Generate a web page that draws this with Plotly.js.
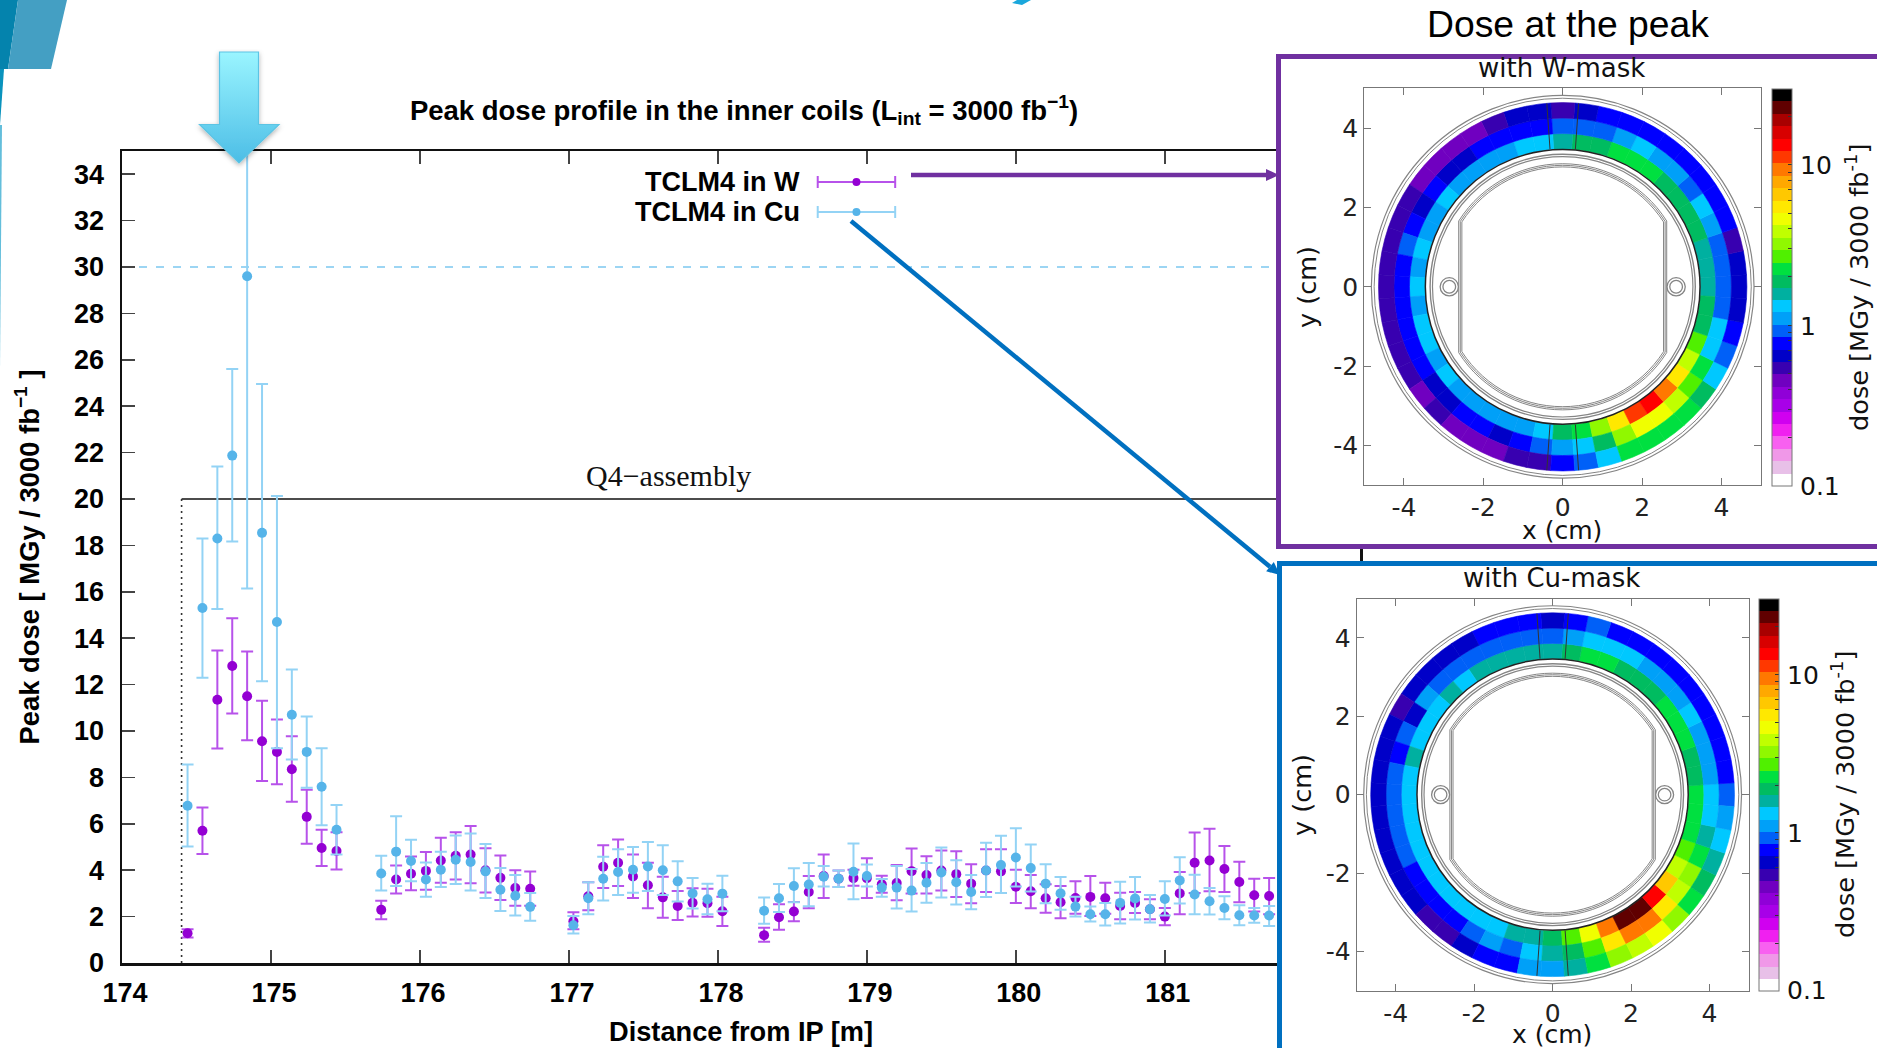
<!DOCTYPE html>
<html><head><meta charset="utf-8">
<script src="https://cdn.plot.ly/plotly-3.0.1.min.js"></script>
<style>html,body{margin:0;padding:0;background:#fff;overflow:hidden}#c{width:1877px;height:1048px}</style>
</head><body><div id="c"></div>
<script>
// ---------- main profile ----------
const distance = [174.44,174.54,174.64,174.74,174.84,174.94,175.04,175.14,175.24,175.34,175.44,
 175.74,175.84,175.94,176.04,176.14,176.24,176.34,176.44,176.54,176.64,176.74,
 177.03,177.13,177.23,177.33,177.43,177.53,177.63,177.73,177.83,177.93,178.03,
 178.31,178.41,178.51,178.61,178.71,178.81,178.91,179.0,179.1,179.2,179.3,179.4,179.5,179.6,179.7,179.8,179.9,
 180.0,180.1,180.2,180.3,180.4,180.5,180.6,180.7,180.8,180.9,181.0,181.1,181.2,181.3,181.4,181.5,181.6,181.7];
const doseW = [1.28,5.7,11.35,12.8,11.5,9.56,9.1,8.35,6.3,4.96,4.83,
 2.29,3.6,3.85,3.97,4.42,4.62,4.68,4.0,3.67,3.23,3.2,
 1.8,2.88,4.15,4.32,3.73,3.35,2.83,2.46,2.6,2.58,2.23,
 1.2,1.97,2.22,3.06,3.75,3.63,3.66,3.66,3.39,3.45,3.96,3.79,3.99,3.83,3.42,3.99,3.95,
 3.29,3.09,2.79,2.62,2.8,2.85,2.79,2.46,2.59,2.32,2.0,3.0,4.32,4.42,4.05,3.49,2.92,2.89];
const doseWHigh = [1.46,6.7,13.47,14.86,13.43,11.3,10.5,9.77,7.47,5.74,5.64,
 2.68,4.2,4.59,4.78,5.4,5.64,5.9,4.95,4.63,4.0,3.94,
 2.19,3.48,5.08,5.32,4.68,4.32,3.72,3.1,3.22,3.2,2.86,
 1.52,2.53,2.63,3.75,4.68,3.99,4.02,4.52,3.76,4.22,4.94,4.6,4.85,4.82,4.26,4.9,4.9,
 4.02,3.79,3.39,3.32,3.52,3.75,3.46,3.03,3.06,2.75,2.37,3.92,5.62,5.79,5.04,4.36,3.63,3.66];
const doseWLow = [1.1,4.7,9.25,10.75,9.6,7.85,7.7,6.95,5.14,4.18,4.03,
 1.89,3.0,3.14,3.16,3.46,3.6,3.44,3.04,2.72,2.47,2.47,
 1.46,2.27,3.23,3.32,2.8,2.36,1.95,1.85,2.0,1.99,1.6,
 0.92,1.43,1.8,2.36,2.8,3.28,3.33,2.8,3.03,2.7,3.0,3.0,3.13,2.85,2.58,3.06,3.02,
 2.59,2.36,2.17,1.93,2.12,2.03,2.12,1.89,2.15,1.89,1.63,2.1,3.02,3.09,3.06,2.62,2.22,2.1];
const doseCu = [6.78,15.3,18.3,21.87,29.6,18.54,14.7,10.7,9.1,7.6,5.74,
 3.86,4.8,4.4,3.6,4.02,4.45,4.35,3.95,3.16,2.9,2.42,
 1.63,2.79,3.63,3.92,4.02,4.16,4.0,3.52,3.0,2.75,2.99,
 2.25,2.79,3.32,3.38,3.72,3.63,3.93,3.75,3.25,3.25,3.12,3.46,3.9,3.48,3.06,3.99,4.22,
 4.55,4.09,3.42,3.0,2.43,2.1,2.1,2.59,2.78,2.32,2.76,3.56,2.95,2.66,2.37,2.06,2.05,2.05];
const doseCuHigh = [8.56,18.3,21.4,25.6,43,24.96,20.13,12.65,10.63,9.26,6.81,
 4.62,6.33,5.31,4.33,4.8,5.5,5.58,5.13,4.09,3.79,3.02,
 2.03,3.48,4.58,4.9,5.0,5.22,5.08,4.39,3.66,3.42,3.76,
 2.82,3.4,4.08,4.31,4.18,3.99,5.15,4.25,3.62,4.18,4.05,4.31,4.98,4.43,3.79,5.18,5.49,
 5.81,5.11,4.26,3.71,2.86,2.43,2.59,3.5,3.71,2.93,3.52,4.56,3.8,3.23,2.88,2.49,2.37,2.46];
const doseCuLow = [5.02,12.3,15.26,18.17,16.14,12.14,9.26,8.77,7.55,5.94,4.68,
 3.13,3.32,3.52,2.86,3.28,3.4,3.13,2.8,2.24,2.05,1.82,
 1.27,2.1,2.69,2.93,3.03,3.1,2.93,2.65,2.35,2.1,2.23,
 1.69,2.2,2.62,2.45,3.3,3.28,2.75,3.3,2.86,2.35,2.22,2.6,2.82,2.52,2.32,2.85,3.02,
 3.3,3.08,2.58,2.29,2.0,1.79,1.62,1.7,1.87,1.75,2.05,2.56,2.1,2.09,1.89,1.63,1.73,1.6];
const xTicks = [174,175,176,177,178,179,180,181];
const yTicks = [0,2,4,6,8,10,12,14,16,18,20,22,24,26,28,30,32,34];
const cmTicks = [-4,-2,0,2,4];
const cmTickText = ['-4','-2','0','2','4'];
const seriesNames = ['TCLM4 in W','TCLM4 in Cu'];
const keyX = [178.93], keyHalf = [0.26], keyYW = [33.66], keyYCu = [32.37];

// ---------- ring dose maps: 48 sectors of 7.5 deg, counter-clockwise from +x, MGy / 3000 fb-1 ----------
const sectorAngles = [0,7.5,15,22.5,30,37.5,45,52.5,60,67.5,75,82.5,90,97.5,105,112.5,120,127.5,135,142.5,150,157.5,165,172.5,
 180,187.5,195,202.5,210,217.5,225,232.5,240,247.5,255,262.5,270,277.5,285,292.5,300,307.5,315,322.5,330,337.5,345,352.5];
const ringWInner = [1.6,1.6,1.6,1.9,1.9,1.9,1.9,2.3,2.3,2.3,1.9,1.9,1.6,1.3,1.3,1.1,1.1,1.1,1.1,1.3,1.1,1.1,1.3,1.1,
 1.3,1.1,1.3,1.3,1.1,1.3,1.1,1.1,1.1,1.1,1.1,1.3,1.9,2.3,3.2,5.5,11,13,9.4,5.5,3.9,2.7,1.9,1.9];
const ringWMiddle = [.93,.93,.93,1.1,1.3,.93,1.1,1.1,1.3,1.1,.93,.93,.93,.78,.78,.78,.78,.65,.65,.78,.65,.78,.93,.78,
 .78,.78,.78,.78,.78,.65,.65,.78,.78,.65,.78,.93,1.1,1.3,1.9,3.2,4.6,4.6,3.9,2.7,2.3,1.3,1.3,.93];
const ringWOuter = [.65,.65,.54,.78,.78,.78,.78,.78,.78,.78,.78,.65,.54,.65,.65,.54,.46,.46,.46,.46,.54,.54,.54,.54,
 .54,.54,.54,.54,.54,.46,.54,.46,.46,.46,.54,.54,.78,.93,1.3,2.3,2.3,2.3,2.3,1.9,1.3,.93,.78,.65];
const ringCuInner = [2.3,1.9,1.9,2.3,2.3,2.3,1.9,1.9,1.9,2.3,2.3,1.9,1.6,1.6,1.6,1.6,1.6,1.3,1.6,1.3,1.3,1.3,1.6,1.3,
 1.3,1.3,1.3,1.3,1.3,1.3,1.3,1.3,1.3,1.3,1.6,1.6,1.9,2.7,4.6,9.4,23,23,13,6.6,3.9,2.7,2.3,2.3];
const ringCuMiddle = [1.3,1.1,1.1,1.1,1.3,1.1,1.1,1.1,1.3,1.3,1.3,1.1,.93,.93,.93,.93,.93,.93,.93,1.1,.65,.93,.78,.93,
 .93,.93,.93,.93,.78,.78,.78,.78,.93,1.1,.93,1.3,1.6,1.9,2.7,5.5,9.4,9.4,5.5,3.9,3.2,2.3,1.6,1.3];
const ringCuOuter = [.93,.78,.78,.78,.78,.78,.78,.78,.78,.78,.93,.78,.65,.78,.78,.78,.65,.65,.65,.65,.54,.65,.65,.65,
 .65,.65,.65,.65,.65,.65,.54,.54,.65,.78,.78,1.1,1.1,1.6,2.3,3.2,3.9,4.6,3.2,2.3,1.9,1.6,1.3,1.1];
const ringEdges = [3.47,3.86,4.25,4.64];
const bandColors = ['#ffffff','#e8c0e8','#f098e8','#f860f0','#f020f0','#d000f0','#a800e8','#9000d8','#7000c0','#3800b0',
 '#0000c8','#0000ff','#0060f8','#00a0f8','#00c8ff','#00b0a0','#00bc60','#00e040','#50f000','#90f800','#c0ff00','#f0ff00',
 '#ffe800','#ffc800','#ffa800','#ff7800','#ff3800','#ff0000','#d80000','#a80000','#600000','#000000'];
const logMin = -1, logMax = Math.log10(30);

// ---------- layout helpers ----------
const W = 1877, H = 1048;
const fx = v => v / W, fy = v => 1 - v / H;
const colorscale = [];
bandColors.forEach((c, i) => { colorscale.push([i / bandColors.length, c]); colorscale.push([(i + 1) / bandColors.length, c]); });
const minorLog = [2,3,4,5,6,7,8,9];
const cbVals = [-1].concat(minorLog.map(v => Math.log10(v / 10)), [0], minorLog.map(v => Math.log10(v)), [1, Math.log10(20)]);

function ringTrace(layers, subplot, cbX, cbY, cbLen) {
  const theta = [], r = [], base = [], color = [];
  layers.forEach((arr, k) => arr.forEach((d, i) => {
    theta.push(sectorAngles[i]); r.push(ringEdges[k + 1] - ringEdges[k]); base.push(ringEdges[k]); color.push(Math.log10(d));
  }));
  return { type: 'barpolar', subplot, theta, r, base, width: 7.5, hoverinfo: 'skip', showlegend: false,
    marker: { color, colorscale, cmin: logMin, cmax: logMax,
      line: { width: 0.6, color, colorscale, cmin: logMin, cmax: logMax },
      colorbar: { x: fx(cbX), xanchor: 'left', xpad: 0, ypad: 0, y: fy(cbY), yanchor: 'middle', thickness: 20, thicknessmode: 'pixels',
        len: cbLen, lenmode: 'pixels', outlinecolor: '#777', outlinewidth: 1, tickmode: 'array', tickvals: cbVals, showticklabels: false,
        ticks: 'inside', ticklen: 4, tickcolor: '#333', tickwidth: 1 } } };
}
const dummy = (xa, ya) => ({ type: 'scatter', mode: 'markers', x: [0], y: [0], xaxis: xa, yaxis: ya, marker: { opacity: 0, size: 1 }, hoverinfo: 'skip', showlegend: false });
function serie(name, y, hi, lo, dot, bar) {
  return { type: 'scatter', mode: 'markers', name, x: distance, y,
    marker: { color: dot, size: 10 }, showlegend: false,
    error_y: { type: 'data', symmetric: false, array: hi.map((v, i) => v - y[i]), arrayminus: lo.map((v, i) => y[i] - v), color: bar, thickness: 2, width: 6 } };
}
function keyTrace(name, y, dot, bar) {
  return { type: 'scatter', mode: 'markers', name, x: keyX, y, marker: { color: dot, size: 8 }, showlegend: false,
    error_x: { type: 'data', array: keyHalf, color: bar, thickness: 2, width: 6 } };
}
const W_DOT = '#9400d3', W_BAR = '#b752ea', CU_DOT = '#56b4e9', CU_BAR = '#93d3f5';

const data = [
  serie(seriesNames[0], doseW, doseWHigh, doseWLow, W_DOT, W_BAR),
  serie(seriesNames[1], doseCu, doseCuHigh, doseCuLow, CU_DOT, CU_BAR),
  keyTrace(seriesNames[0], keyYW, W_DOT, W_BAR),
  keyTrace(seriesNames[1], keyYCu, CU_DOT, CU_BAR),
  dummy('x2', 'y2'), dummy('x3', 'y3'), dummy('x4', 'y4'), dummy('x5', 'y5'),
  ringTrace([ringWInner, ringWMiddle, ringWOuter], 'polar', 1771.5, 287, 397),
  ringTrace([ringCuInner, ringCuMiddle, ringCuOuter], 'polar2', 1758.5, 795, 392)
];

const frameAxis = (dom, anchor, color) => ({ domain: dom, anchor, range: [0, 1], showline: true, mirror: true, linecolor: color, linewidth: 5,
  showticklabels: false, ticks: '', showgrid: false, zeroline: false, fixedrange: true });
const cmAxis = (dom, anchor) => ({ domain: dom, anchor, range: [-5, 5], tickmode: 'array', tickvals: cmTicks, ticktext: cmTickText, showline: true, mirror: 'ticks', linecolor: '#777', linewidth: 1,
  ticks: 'inside', ticklen: 7, tickcolor: '#777', tickwidth: 1, showgrid: false, zeroline: false, tickfont: { family: 'DejaVu Sans', size: 25, color: '#222' } });
const mainFont = { family: 'Liberation Sans', size: 27.5, color: '#000' };

// detector outlines, drawn in cm on each panel's axes
const GRAY = '#858585';
function circle(xr, yr, cx, cy, rad, color, width) {
  return { type: 'circle', xref: xr, yref: yr, x0: cx - rad, x1: cx + rad, y0: cy - rad, y1: cy + rad, line: { color, width }, layer: 'above' };
}
function screenPath(rad, flat) {
  const a = Math.acos(flat / rad), pts = [];
  const arc = (from, to) => { for (let i = 0; i <= 30; i++) { const t = from + (to - from) * i / 30; pts.push([rad * Math.cos(t), rad * Math.sin(t)]); } };
  arc(a, Math.PI - a); arc(Math.PI + a, 2 * Math.PI - a);
  return 'M' + pts.map(p => p[0].toFixed(3) + ',' + p[1].toFixed(3)).join('L') + 'Z';
}
function detector(xr, yr) {
  const s = [];
  [[4.82, GRAY, 1.2], [4.75, GRAY, 1], [3.46, '#222', 1.5], [3.34, GRAY, 1.4], [3.28, GRAY, 1.2]].forEach(c => s.push(circle(xr, yr, 0, 0, c[0], c[1], c[2])));
  [[3.1, 2.62], [3.06, 2.58], [3.02, 2.54]].forEach(p => s.push({ type: 'path', xref: xr, yref: yr, path: screenPath(p[0], p[1]), line: { color: GRAY, width: 1 }, layer: 'above' }));
  [-2.857, 2.857].forEach(cx => { s.push(circle(xr, yr, cx, 0, 0.23, GRAY, 1.3)); s.push(circle(xr, yr, cx, 0, 0.16, GRAY, 1.3)); });
  [[-0.40, -0.32], [0.40, 0.32]].forEach(p => [1, -1].forEach(sg =>
    s.push({ type: 'line', xref: xr, yref: yr, x0: p[0], x1: p[1], y0: sg * 4.62, y1: sg * 3.47, line: { color: '#333', width: 1 }, layer: 'above' })));
  return s;
}
const paperPath = (pts, fill) => ({ type: 'path', xref: 'paper', yref: 'paper', layer: 'above', line: { width: 0 }, fillcolor: fill,
  path: 'M' + pts.map(p => fx(p[0]) + ',' + fy(p[1])).join('L') + 'Z' });
// straight pointer from the legend to a panel: a stem and a small head
function pointer(sx, sy, tx, ty, color) {
  const len = Math.hypot(tx - sx, ty - sy), ux = (tx - sx) / len, uy = (ty - sy) / len, hl = 13, hw = 6;
  const bx = tx - ux * hl, by = ty - uy * hl;
  return [
    { type: 'line', xref: 'paper', yref: 'paper', layer: 'above', x0: fx(sx), y0: fy(sy), x1: fx(bx), y1: fy(by), line: { color, width: 4.5 } },
    paperPath([[tx, ty], [bx - uy * hw, by + ux * hw], [bx + uy * hw, by - ux * hw]], color)
  ];
}

const shapes = [
  { type: 'line', xref: 'x', yref: 'y', x0: 174, x1: 182.31, y0: 30, y1: 30, layer: 'below', line: { color: '#7cc8f0', width: 1.5, dash: '8px,9px' } },
  { type: 'line', xref: 'x', yref: 'y', x0: 174.4, x1: 182.31, y0: 20, y1: 20, layer: 'below', line: { color: '#111', width: 1.5 } },
  { type: 'line', xref: 'x', yref: 'y', x0: 174.4, x1: 174.4, y0: 0, y1: 20, layer: 'below', line: { color: '#333', width: 1.6, dash: '2px,4px' } },
  ...detector('x3', 'y3'), ...detector('x5', 'y5'),
  ...pointer(911, 175, 1279, 175, '#7030a0'),
  ...pointer(851, 221, 1280, 575, '#0070c0'),
  paperPath([[0,0],[18,0],[8,69],[0,69]], '#0483ad'),
  paperPath([[18,0],[67,0],[51,69],[8,69]], '#449fc3'),
  paperPath([[0,69],[4,69],[0,125]], '#0a93bd'),
  paperPath([[0,125],[2,125],[0,370]], '#63bedb'),
  paperPath([[1012,3],[1017,0],[1031,0],[1022,5]], '#1aa7dc')
];

const arrowSvg = "<svg xmlns='http://www.w3.org/2000/svg' width='100' height='130' viewBox='0 0 100 130'>" +
 "<defs><linearGradient id='g' x1='0' y1='0' x2='0' y2='1'><stop offset='0' stop-color='#9af5ff'/><stop offset='1' stop-color='#4cbde6'/></linearGradient>" +
 "<filter id='s' x='-20%' y='-20%' width='140%' height='140%'><feDropShadow dx='0' dy='2' stdDeviation='2.5' flood-color='#000' flood-opacity='0.3'/></filter></defs>" +
 "<path d='M29.5 3H68.5V75.5H89L49 114 9.5 75.5H29.5Z' fill='url(#g)' stroke='#5cc4e4' stroke-width='1.2' filter='url(#s)'/></svg>";

const note = (text, x, y, size, family, extra) => Object.assign({ text, xref: 'paper', yref: 'paper', x: fx(x), y: fy(y), xanchor: 'center', yanchor: 'middle', showarrow: false,
  font: { family, size, color: '#111' } }, extra || {});
const SUP = 'dose [MGy / 3000 fb<sup>-1</sup>]';
const DJ = 'DejaVu Sans', LS = 'Liberation Sans';

const layout = {
  width: W, height: H, paper_bgcolor: '#ffffff', plot_bgcolor: '#ffffff', showlegend: false,
  margin: { l: 0, r: 0, t: 0, b: 0, autoexpand: false },
  title: { text: '<b>Peak dose profile in the inner coils (L<sub>int</sub> = 3000 fb<sup>−1</sup>)</b>', x: fx(744), y: fy(110), xref: 'paper', yref: 'paper', xanchor: 'center', yanchor: 'middle', font: mainFont },
  xaxis: { domain: [fx(122), fx(1360)], range: [174, 182.31], anchor: 'y', tickmode: 'array', tickvals: xTicks, ticklabelshift: 3, ticklabelstandoff: 4,
    showline: true, mirror: 'ticks', linecolor: '#111', linewidth: 2.5, ticks: 'inside', ticklen: 13, tickcolor: '#444', tickwidth: 1.5, showgrid: false, zeroline: false,
    tickfont: { family: LS, size: 27, color: '#000', weight: 'bold' },
    title: { text: '<b>Distance from IP [m]</b>', font: { family: LS, size: 27.2, color: '#000' }, standoff: 15 } },
  yaxis: { domain: [fy(963), fy(151)], range: [0, 35], anchor: 'x', tickmode: 'array', tickvals: yTicks, ticklabelstandoff: 10,
    showline: true, mirror: 'ticks', linecolor: '#111', linewidth: 2.5, ticks: 'inside', ticklen: 13, tickcolor: '#444', tickwidth: 1.5, showgrid: false, zeroline: false,
    tickfont: { family: LS, size: 27, color: '#000', weight: 'bold' },
    title: { text: '<b>Peak dose [ MGy / 3000 fb<sup>−1</sup> ]</b>', font: { family: LS, size: 27.4, color: '#000' }, standoff: 27 } },
  xaxis2: frameAxis([fx(1281), 1], 'y2', '#7030a0'),
  yaxis2: frameAxis([fy(544), fy(59)], 'x2', '#7030a0'),
  xaxis3: cmAxis([fx(1364.2), fx(1761.2)], 'y3'),
  yaxis3: cmAxis([fy(485.3), fy(88.3)], 'x3'),
  xaxis4: frameAxis([fx(1282), 1], 'y4', '#0070c0'),
  yaxis4: frameAxis([0, fy(566)], 'x4', '#0070c0'),
  xaxis5: cmAxis([fx(1356.6), fx(1748.6)], 'y5'),
  yaxis5: cmAxis([fy(990.7), fy(598.7)], 'x5'),
  polar: { domain: { x: [fx(1364.2), fx(1761.2)], y: [fy(485.3), fy(88.3)] }, bgcolor: 'rgba(0,0,0,0)', bargap: 0,
    radialaxis: { visible: false, range: [0, 5] }, angularaxis: { visible: false } },
  polar2: { domain: { x: [fx(1356.6), fx(1748.6)], y: [fy(990.7), fy(598.7)] }, bgcolor: 'rgba(0,0,0,0)', bargap: 0,
    radialaxis: { visible: false, range: [0, 5] }, angularaxis: { visible: false } },
  shapes,
  images: [{ source: 'data:image/svg+xml;charset=utf-8,' + encodeURIComponent(arrowSvg), xref: 'paper', yref: 'paper', x: fx(190), y: fy(49), sizex: 100 / W, sizey: 130 / H, xanchor: 'left', yanchor: 'top', sizing: 'stretch', layer: 'above' }],
  annotations: [
    note('<b>' + seriesNames[0] + '</b>', 802, 182, 27, LS, { xanchor: 'right', font: { family: LS, size: 27, color: '#000' } }),
    note('<b>' + seriesNames[1] + '</b>', 802, 212, 27, LS, { xanchor: 'right', font: { family: LS, size: 27, color: '#000' } }),
    note('Q4−assembly', 668, 476, 30, 'Liberation Serif'),
    note('Dose at the peak', 1568, 24, 37.3, LS, { font: { family: LS, size: 37.3, color: '#000' } }),
    note('with W-mask', 1561, 68, 26, DJ),
    note('with Cu-mask', 1551, 578, 26, DJ),
    note('x (cm)', 1562, 530, 25, DJ),
    note('y (cm)', 1307, 287, 25.5, DJ, { textangle: -90 }),
    note('x (cm)', 1552, 1034, 25, DJ),
    note('y (cm)', 1302, 795, 25.5, DJ, { textangle: -90 }),
    note('10', 1798, 165, 25, DJ, { xanchor: 'left' }),
    note('1', 1798, 326, 25, DJ, { xanchor: 'left' }),
    note('0.1', 1798, 486, 25, DJ, { xanchor: 'left' }),
    note('10', 1785, 675, 25, DJ, { xanchor: 'left' }),
    note('1', 1785, 833, 25, DJ, { xanchor: 'left' }),
    note('0.1', 1785, 990, 25, DJ, { xanchor: 'left' }),
    note(SUP, 1857, 288, 25.6, DJ, { textangle: -90 }),
    note(SUP, 1843, 795, 25.6, DJ, { textangle: -90 })
  ]
};
Plotly.newPlot('c', data, layout, { displayModeBar: false, staticPlot: true });
</script></body></html>
